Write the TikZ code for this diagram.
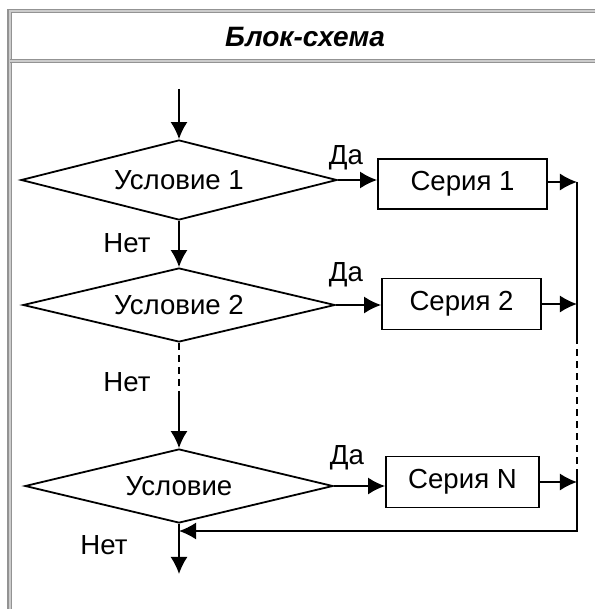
\documentclass[tikz,border=0pt]{standalone}
\usepackage{fontspec}
\setmainfont{Liberation Sans}
\usetikzlibrary{arrows.meta, positioning, shapes.geometric}

\begin{document}
\begin{tikzpicture}[x=0.5pt, y=-0.5pt, line width=0.9pt,
  font=\fontsize{13.8}{16}\selectfont,
  decision/.style={draw, diamond, aspect=4, inner sep=0pt},
  series/.style={draw, rectangle, inner sep=0pt},
  flow/.style={-{Latex[length=3mm,width=3mm]}},
  tableframe/.style={draw=gray!85, double=gray!40, line width=0.7pt, double distance=1pt}]

\useasboundingbox (0,0) rectangle (595,609);

% table frame and title
\draw[tableframe] (595,11) -- (9.5,11) -- (9.5,609);
\draw[tableframe] (9.5,61) -- (595,61);
\node (title) at (305,37) {\fontsize{14}{16}\selectfont\bfseries\itshape Блок-схема};

% conditions
\coordinate (start) at (179,89);
\node[decision, minimum width=158pt, minimum height=40pt] (cond1) at (179,180) {Условие 1};
\node[decision, minimum width=156pt, minimum height=37pt] (cond2) at (179,305) {Условие 2};
\node[decision, minimum width=154pt, minimum height=37pt] (condn) at (179,486) {Условие};
\coordinate (gap) at (179,398);
\coordinate (exit) at (179,574);

% series
\node[series, minimum width=84.5pt, minimum height=25pt] (ser1) at (462.5,184) {Серия 1};
\node[series, minimum width=79.5pt, minimum height=25.5pt] (ser2) at (461.5,304) {Серия 2};
\node[series, minimum width=76.5pt, minimum height=25.5pt] (sern) at (462.5,482) {Серия N};

% right return line
\coordinate (bus1) at (577,182);
\coordinate (bus2) at (577,337);
\coordinate (bus3) at (577,470);
\coordinate (bus4) at (577,531);

% "no" branch
\draw[flow] (start) -- (cond1.north);
\draw[flow] (cond1.south) -- (cond2.north);
\draw[dashed, dash pattern=on 3.5pt off 2.5pt] (cond2.south) -- (gap);
\draw[flow] (gap) -- (condn.north);
\draw[flow] (condn.south) -- (exit);

% "yes" branch
\draw[flow] (cond1.east) -- (cond1.east -| ser1.west);
\draw[flow] (cond2.east) -- (cond2.east -| ser2.west);
\draw[flow] (condn.east) -- (condn.east -| sern.west);
\draw[flow] (ser1.east |- bus1) -- (bus1);
\draw[flow] (ser2.east) -- (ser2.east -| bus1);
\draw[flow] (sern.east) -- (sern.east -| bus1);

\draw (bus1) -- (bus2);
\draw[dashed, dash pattern=on 3.5pt off 2.5pt] (bus2) -- (bus3);
\draw[flow] (bus3) -- (bus4) -- (bus4 -| condn.south);

% labels
\node (no1) at (127,243) {Нет};
\node (no2) at (127,382) {Нет};
\node (no3) at (104,545) {Нет};
\node (yes1) at (346,158) {Да};
\node (yes2) at (346,275) {Да};
\node (yes3) at (347,458) {Да};

\end{tikzpicture}
\end{document}
